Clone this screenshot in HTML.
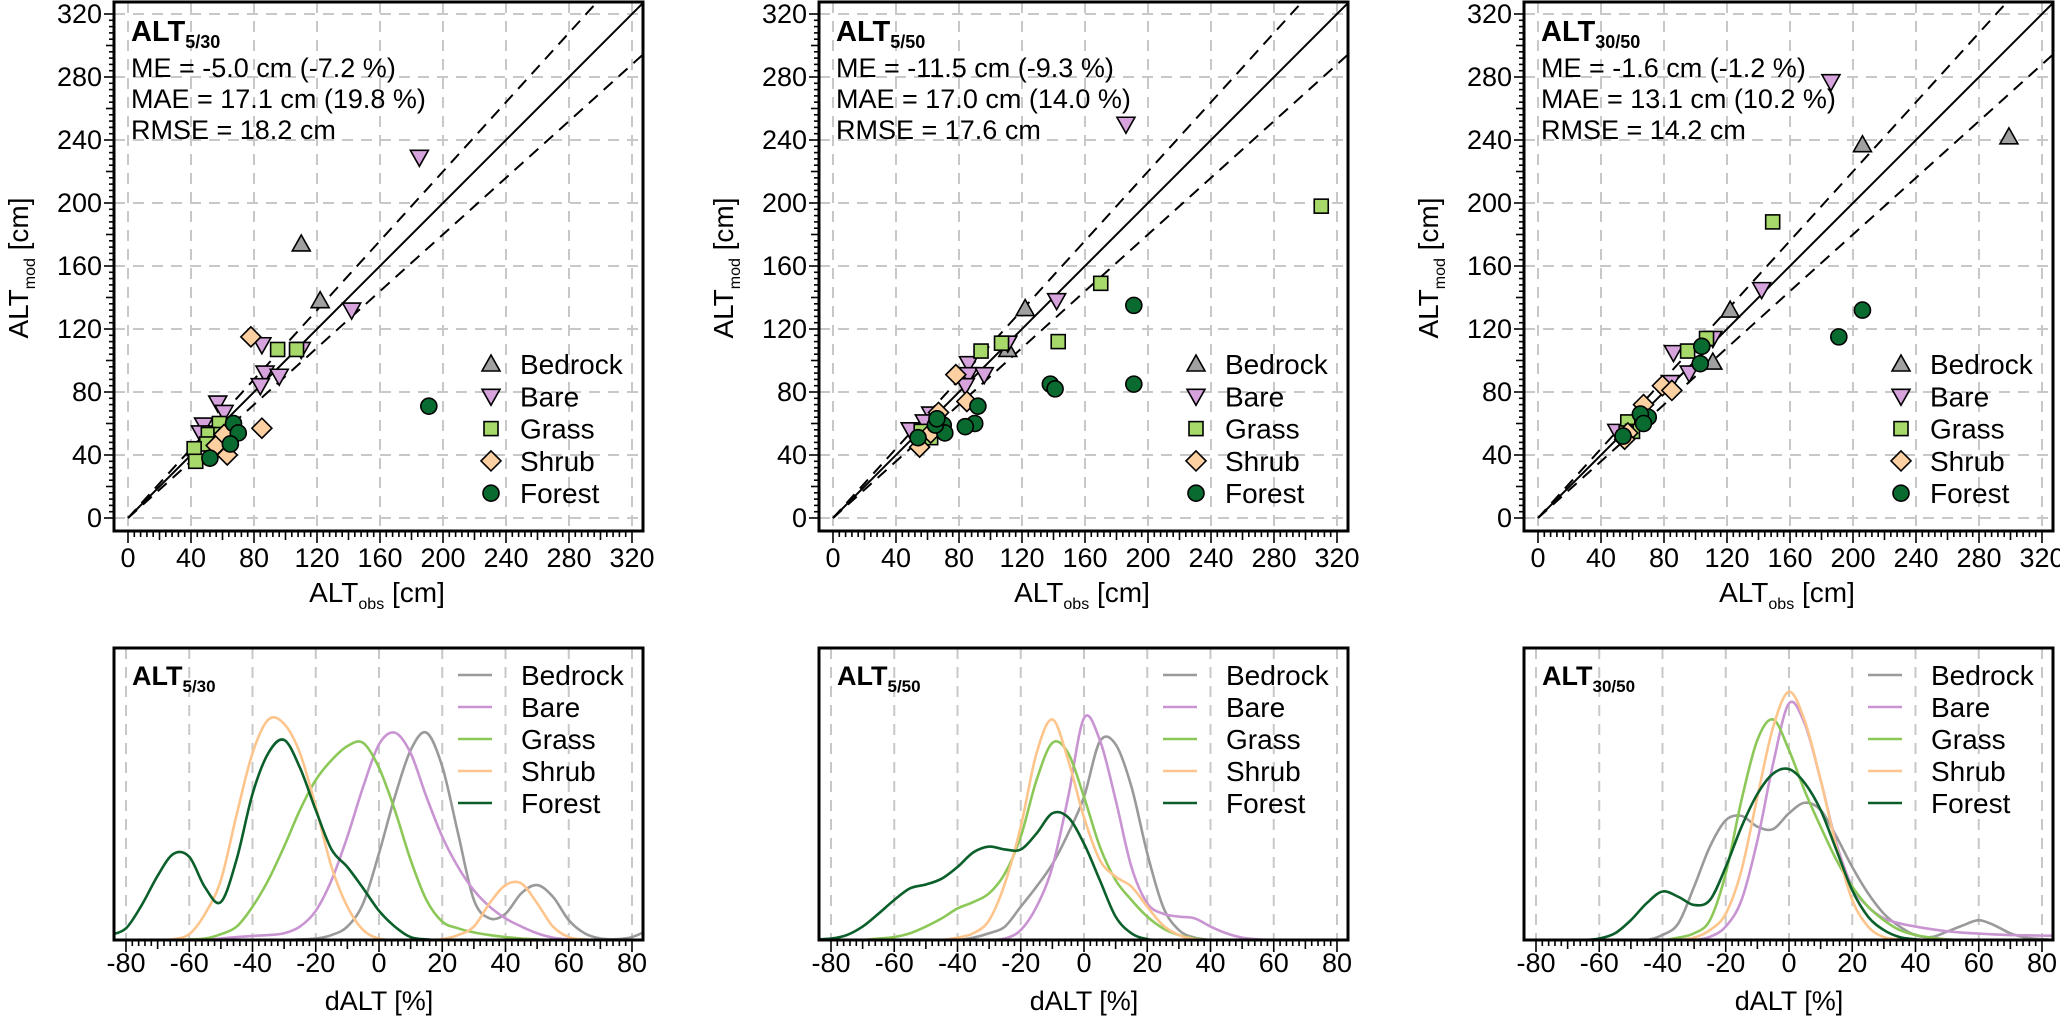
<!DOCTYPE html>
<html><head><meta charset="utf-8"><style>
html,body{margin:0;padding:0;background:#fff}
svg{display:block}
text{font-family:"Liberation Sans",Arial,sans-serif;fill:#000}
</style></head><body>
<svg id="chart" width="2060" height="1018" viewBox="0 0 2060 1018" xmlns="http://www.w3.org/2000/svg"></svg>
<script>
// ---- shared ----
const classes = ["Bedrock","Bare","Grass","Shrub","Forest"];
const panelTitles = ["5/30","5/50","30/50"];
const statME = ["ME = -5.0 cm (-7.2 %)","ME = -11.5 cm (-9.3 %)","ME = -1.6 cm (-1.2 %)"];
const statMAE = ["MAE = 17.1 cm (19.8 %)","MAE = 17.0 cm (14.0 %)","MAE = 13.1 cm (10.2 %)"];
const statRMSE = ["RMSE = 18.2 cm","RMSE = 17.6 cm","RMSE = 14.2 cm"];
const scatterTicks = [0,40,80,120,160,200,240,280,320];
const densTicks = [-80,-60,-40,-20,0,20,40,60,80];

// ---- scatter data (obs, mod) ----
const p1BedrockObs=[110,122], p1BedrockMod=[174,138];
const p1BareObs=[185,142,85,110,87,96,84,57,61,48,46], p1BareMod=[229,132,110,107,92,90,84,73,67,59,54];
const p1GrassObs=[95,107,58,51,59,50,42,43], p1GrassMod=[107,107,60,53,53,47,44,36];
const p1ShrubObs=[78,85,56,63,61], p1ShrubMod=[115,57,46,40,53];
const p1ForestObs=[191,67,70,65,52], p1ForestMod=[71,60,54,47,38];

const p2BedrockObs=[122,111], p2BedrockMod=[133,107];
const p2BareObs=[186,142,111,86,86,96,84,62,58,49], p2BareMod=[250,138,111,98,91,91,84,66,61,56];
const p2GrassObs=[310,170,143,107,94,56,62], p2GrassMod=[198,149,112,111,106,55,51];
const p2ShrubObs=[78,85,67,62,55], p2ShrubMod=[91,74,67,54,45];
const p2ForestObs=[191,191,138,141,92,90,84,70,71,65,66,54], p2ForestMod=[135,85,85,82,71,60,58,59,54,59,63,51];

const p3BedrockObs=[206,299,122,111], p3BedrockMod=[237,242,132,99];
const p3BareObs=[186,142,111,86,96,84,50], p3BareMod=[277,145,114,105,92,86,55];
const p3GrassObs=[149,107,95,57,60,56], p3GrassMod=[188,114,106,61,55,54];
const p3ShrubObs=[79,85,67,57,55], p3ShrubMod=[84,81,72,54,50];
const p3ForestObs=[206,191,104,103,70,65,67,54], p3ForestMod=[132,115,109,98,64,66,60,52];

// ---- density data (dALT grid) ----
const densX=[-85,-80,-75,-70,-65,-60,-55,-50,-45,-40,-35,-30,-25,-20,-15,-10,-5,0,5,10,15,20,25,30,35,40,45,50,55,60,65,70,75,80,85];
const d1Bedrock=[0,0,0,0,0,0,0,0,0,0,0,0,0.2,0.5,1.7,4.6,12.6,29.7,49,65,71,59.4,36.5,13.7,7.4,9,16,18.8,14.8,6.8,2.3,0.5,0.3,1,3.4];
const d1Bare=[0,0,0,0,0,0,0,0.5,1,1.4,1.7,2.3,4.6,10,20.5,35.4,52.5,67,71,64,49,35.4,25,17,11.4,7.4,4.6,2.3,0.8,0.2,0,0,0,0,0];
const d1Grass=[0,0,0,0,0,0.2,0.5,2,4.6,11.4,20.5,32,44.5,54.8,61.6,66.4,67.5,59,44.5,27.4,13.7,6.3,4,2.6,1.7,1,0.5,0.2,0,0,0,0,0,0,0];
const d1Shrub=[0,0,0,0,0.3,2,9,20.5,43,64,75.5,74,64,45.7,25,11.4,3.4,0.5,0,0,0,0.3,1.7,4.6,12.6,18.8,19.4,12.6,4.6,1,0.2,0,0,0,0];
const d1Forest=[1.7,4,12,22,29.5,28.5,18,13,27.7,50,64,68.5,59,44.5,31,25,17.7,10,4.6,1,0.2,0,0,0,0,0,0,0,0,0,0,0,0,0,0];

const d2Bedrock=[0,0,0,0,0,0,0,0,0,0,0.8,2.3,4.6,11.4,18.3,26,36.5,49,68,67,52.5,29.7,11.4,3.4,0.8,0,0,0,0,0,0,0,0,0,0];
const d2Bare=[0,0,0,0,0,0,0,0,0,0,0,0,0.5,3.4,11.4,25,49,76,68.5,48,25,12.6,9,8,7.4,4.6,2.3,0.8,0.2,0,0,0,0,0,0];
const d2Grass=[0,0,0,0,0.5,1,2.3,4.6,7.4,10.8,13,16,22.8,35.4,54.8,67.5,64,49,32,20.5,13.7,8,4,1.7,0.5,0,0,0,0,0,0,0,0,0,0];
const d2Shrub=[0,0,0,0,0,0,0,0,0,0.8,2.3,6.8,19.4,38.8,64,75.5,61.6,42,27.4,21.7,18.3,11.4,5,1.7,0.3,0,0,0,0,0,0,0,0,0,0];
const d2Forest=[0.2,0.5,1.7,4.6,9,13.7,17.7,19,21,25,30,32,31,31,36.5,43.4,42,33,20.5,8,2.3,0.3,0,0,0,0,0,0,0,0,0,0,0,0,0];

const d3Bedrock=[0,0,0,0,0,0,0,0,0,1.7,5.7,18.3,32,41,42.5,38.8,38,43.4,47,44.5,35.4,25,16,9,4.6,1.7,1,2.9,5,6.8,5,2.3,0.8,0.3,0];
const d3Bare=[0,0,0,0,0,0,0,0,0,0,0,0,1.1,4.6,13.7,34,60.5,81,74,54.8,33,18.3,11.4,7.4,5.7,4.6,3.7,3,2.5,2.2,1.9,1.7,1.6,1.5,1.5];
const d3Grass=[0,0,0,0,0,0,0,0,0,0,0.8,2.3,6.8,22.8,48,68.5,75.5,65,51,38.8,27.4,18.3,11.4,6.8,3.4,1.7,0.8,0.2,0,0,0,0,0,0,0];
const d3Shrub=[0,0,0,0,0,0,0,0,0,0,0,0.8,3.4,9,24,49,73,85,75,54.8,32,13.7,4.6,1,0.2,0,0,0,0,0,0,0,0,0,0];
const d3Forest=[0,0,0,0,0,0.5,2.3,6.8,12.6,16.6,14.8,12,13.7,25,38.8,50,57,58.5,53.7,44.5,30.8,17,8,3.4,1,0.2,0,0,0,0,0,0,0,0,0];

const scatterSets=[
 [[p1BedrockObs,p1BedrockMod],[p1BareObs,p1BareMod],[p1GrassObs,p1GrassMod],[p1ShrubObs,p1ShrubMod],[p1ForestObs,p1ForestMod]],
 [[p2BedrockObs,p2BedrockMod],[p2BareObs,p2BareMod],[p2GrassObs,p2GrassMod],[p2ShrubObs,p2ShrubMod],[p2ForestObs,p2ForestMod]],
 [[p3BedrockObs,p3BedrockMod],[p3BareObs,p3BareMod],[p3GrassObs,p3GrassMod],[p3ShrubObs,p3ShrubMod],[p3ForestObs,p3ForestMod]]];
const densSets=[[d1Bedrock,d1Bare,d1Grass,d1Shrub,d1Forest],[d2Bedrock,d2Bare,d2Grass,d2Shrub,d2Forest],[d3Bedrock,d3Bare,d3Grass,d3Shrub,d3Forest]];

const fillCol=["#a0a0a0","#d6a3dc","#a6d96a","#fdd0a2","#0a6b30"];
const lineCol=["#9a9a9a","#c994d2","#8cc858","#fdc58c","#0a5f2a"];

const NS="http://www.w3.org/2000/svg";
const svg=document.getElementById("chart");
function mk(tag,attrs,parent){const e=document.createElementNS(NS,tag);for(const k in attrs)e.setAttribute(k,attrs[k]);(parent||svg).appendChild(e);return e;}

function marker(g,cls,cx,cy){
  let e;
  if(cls===0){e=mk("polygon",{points:`${cx},${cy-9} ${cx-9},${cy+7} ${cx+9},${cy+7}`},g);}
  else if(cls===1){e=mk("polygon",{points:`${cx},${cy+9} ${cx-9},${cy-7} ${cx+9},${cy-7}`},g);}
  else if(cls===2){e=mk("rect",{x:cx-7,y:cy-7,width:14,height:14},g);}
  else if(cls===3){e=mk("polygon",{points:`${cx},${cy-10} ${cx+10},${cy} ${cx},${cy+10} ${cx-10},${cy}`},g);}
  else {e=mk("circle",{cx:cx,cy:cy,r:8},g);}
  e.setAttribute("fill",fillCol[cls]);e.setAttribute("stroke","#000");e.setAttribute("stroke-width","1.6");
  return e;
}

function smoothPath(pts){
  let d=`M${pts[0][0]},${pts[0][1]}`;
  for(let i=0;i<pts.length-1;i++){
    const p0=pts[Math.max(i-1,0)],p1=pts[i],p2=pts[i+1],p3=pts[Math.min(i+2,pts.length-1)];
    const c1x=p1[0]+(p2[0]-p0[0])/6,c1y=p1[1]+(p2[1]-p0[1])/6;
    const c2x=p2[0]-(p3[0]-p1[0])/6,c2y=p2[1]-(p3[1]-p1[1])/6;
    d+=` C${c1x},${c1y} ${c2x},${c2y} ${p2[0]},${p2[1]}`;
  }
  return d;
}

for(let p=0;p<3;p++){
  const off=p*705;
  const L=114+off,R=643+off,T=2,B=531;
  const X=v=>128+off+v*1.575, Y=v=>518-v*1.575;
  const g=mk("g",{});
  
  
  mk("defs",{},g).innerHTML=`<clipPath id="cs${p}"><rect x="${L}" y="${T}" width="${R-L}" height="${B-T}"/></clipPath><clipPath id="cd${p}"><rect x="${L}" y="648" width="${R-L}" height="292"/></clipPath>`;
  scatterTicks.forEach(t=>{
    const gv=mk("line",{x1:X(t),x2:X(t),y1:T,y2:B,stroke:"#c8c8c8","stroke-width":2,"stroke-dasharray":"11 8"},g);
    
    const gh=mk("line",{x1:L,x2:R,y1:Y(t),y2:Y(t),stroke:"#c8c8c8","stroke-width":2,"stroke-dasharray":"11 8"},g);
    
  });
  const lg=mk("g",{"clip-path":`url(#cs${p})`},g);
  const one=mk("line",{x1:X(0),y1:Y(0),x2:X(340),y2:Y(340),stroke:"#000","stroke-width":2},lg);
  
  const up=mk("line",{x1:X(0),y1:Y(0),x2:X(340),y2:Y(374),stroke:"#000","stroke-width":2,"stroke-dasharray":"12 8"},lg);
  
  const lo=mk("line",{x1:X(0),y1:Y(0),x2:X(340),y2:Y(306),stroke:"#000","stroke-width":2,"stroke-dasharray":"12 8"},lg);
  
  for(let c=0;c<5;c++){
    const [obs,mod]=scatterSets[p][c];
    for(let i=0;i<obs.length;i++){
      const m=marker(g,c,X(obs[i]),Y(mod[i]));
      
      
    }
  }
  const fr=mk("rect",{x:L,y:T,width:R-L,height:B-T,fill:"none",stroke:"#000","stroke-width":3},g);
  
  for(let v=0;v<=320;v+=4){
    const len=v%40===0?10:(v%20===0?8:5);
    mk("line",{x1:L-len,x2:L,y1:Y(v),y2:Y(v),stroke:"#000","stroke-width":1.6},g);
  }
  for(let v=0;v<=320;v+=4){
    const len=v%40===0?12:(v%20===0?9:6);
    mk("line",{x1:X(v),x2:X(v),y1:B,y2:B+len,stroke:"#000","stroke-width":1.6},g);
  }
  scatterTicks.forEach(t=>{
    const ty=mk("text",{x:L-12,y:Y(t)+9,"font-size":27,"text-anchor":"end"},g);ty.textContent=t;
    
    const tx=mk("text",{x:X(t),y:567,"font-size":27,"text-anchor":"middle"},g);tx.textContent=t;
    
  });
  const xt=mk("text",{x:377+off,y:602,"font-size":28,"text-anchor":"middle"},g);
  xt.innerHTML='ALT<tspan font-size="16" dy="7">obs</tspan><tspan dy="-7"> [cm]</tspan>';
  
  const yt=mk("text",{x:0,y:0,"font-size":28,"text-anchor":"middle",transform:`translate(${28+off},268) rotate(-90)`},g);
  yt.innerHTML='ALT<tspan font-size="16" dy="7">mod</tspan><tspan dy="-7"> [cm]</tspan>';
  
  const tt=mk("text",{x:131+off,y:41,"font-size":29,"font-weight":"bold"},g);
  tt.innerHTML=`ALT<tspan font-size="18" dy="7">${panelTitles[p]}</tspan>`;
  
  [statME[p],statMAE[p],statRMSE[p]].forEach((s,i)=>{
    const st=mk("text",{x:131+off,y:77+i*31,"font-size":27},g);st.textContent=s;
    
  });
  for(let c=0;c<5;c++){
    const cy=364+c*32.3;
    const m=marker(g,c,L+377,cy);
    
    const lt=mk("text",{x:L+406,y:cy+10,"font-size":28},g);lt.textContent=classes[c];
    
  }

  // ---- density panel ----
  const DT=648,DB=940;
  const DX=v=>126+off+(v+80)*3.1625, DY=v=>DB-v*2.92;
  const dg=mk("g",{},svg);
  
  
  for(let t=-80;t<=80;t+=20){
    const gl=mk("line",{x1:DX(t),x2:DX(t),y1:DT,y2:DB,stroke:"#c8c8c8","stroke-width":2,"stroke-dasharray":"11 8"},dg);
    
  }
  const cg=mk("g",{"clip-path":`url(#cd${p})`},dg);
  for(let c=0;c<5;c++){
    const vals=densSets[p][c];
    const pts=densX.map((x,i)=>[DX(x),DY(vals[i])]);
    const path=mk("path",{d:smoothPath(pts),fill:"none",stroke:lineCol[c],"stroke-width":2.6},cg);
    
    
  }
  const dfr=mk("rect",{x:L,y:DT,width:R-L,height:DB-DT,fill:"none",stroke:"#000","stroke-width":3},dg);
  
  for(let v=-80;v<=80;v+=2){
    const len=v%20===0?12:(v%10===0?9:6);
    mk("line",{x1:DX(v),x2:DX(v),y1:DB,y2:DB+len,stroke:"#000","stroke-width":1.6},dg);
  }
  densTicks.forEach(t=>{
    const tx=mk("text",{x:DX(t),y:972,"font-size":27,"text-anchor":"middle"},dg);tx.textContent=t;
    
  });
  const dxt=mk("text",{x:379+off,y:1010,"font-size":27,"text-anchor":"middle"},dg);dxt.textContent="dALT [%]";
  
  const dtt=mk("text",{x:132+off,y:685,"font-size":27,"font-weight":"bold"},dg);
  dtt.innerHTML=`ALT<tspan font-size="17" dy="7">${panelTitles[p]}</tspan>`;
  
  for(let c=0;c<5;c++){
    const cy=675+c*32;
    const ll=mk("line",{x1:L+344,x2:L+378,y1:cy,y2:cy,stroke:lineCol[c],"stroke-width":2.6},dg);
    
    const lt=mk("text",{x:L+407,y:cy+10,"font-size":28},dg);lt.textContent=classes[c];
    
  }
}
</script>
</body></html>
